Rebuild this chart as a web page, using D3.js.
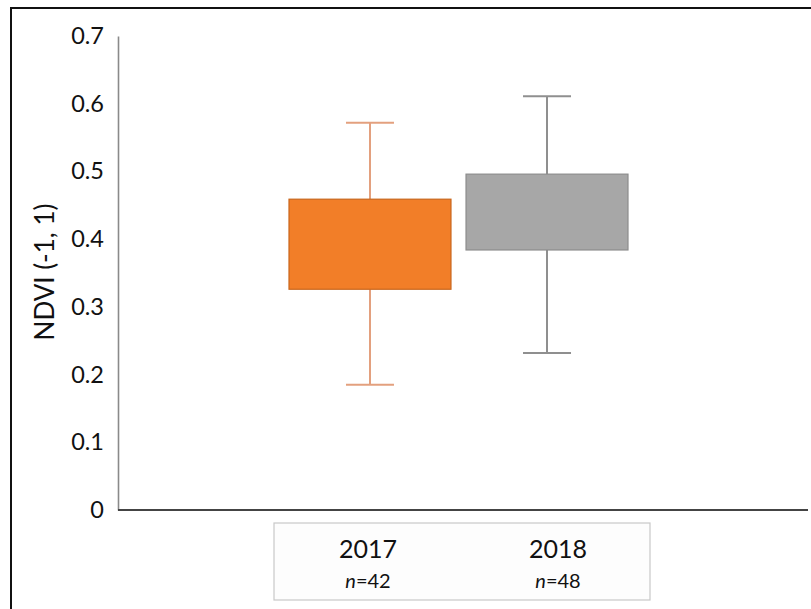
<!DOCTYPE html>
<html><head><meta charset="utf-8">
<script src="https://cdn.jsdelivr.net/npm/d3@7"></script>
<style>body{margin:0;background:#fff}svg{display:block}text{font-family:Lato,"Open Sans",sans-serif}</style>
</head><body>
<svg id="c" width="811" height="609"></svg>
<script>
const categories = ["2017", "2018"];
const sampleSizes = [42, 48];
const whiskerMin = [0.185, 0.232];
const boxQ1 = [0.326, 0.384];
const boxQ3 = [0.459, 0.496];
const whiskerMax = [0.572, 0.611];
const yTicks = [0, 0.1, 0.2, 0.3, 0.4, 0.5, 0.6, 0.7];
const fills = ["#F27E28", "#A7A7A7"];
const strokes = ["#C8661C", "#8C8C8C"];
const whiskerColors = ["#E3A07E", "#8F8F8F"];

const svg = d3.select("#c");
// outer frame (top & left)
svg.append("line").attr("x1",11).attr("x2",811).attr("y1",8).attr("y2",8).attr("stroke","#111").attr("stroke-width",2);
svg.append("line").attr("x1",11).attr("x2",11).attr("y1",7).attr("y2",609).attr("stroke","#111").attr("stroke-width",2);

const y = d3.scaleLinear().domain([0, 0.7]).range([510, 36]);
const x = d3.scaleBand().domain(categories).range([289, 628]).paddingInner(0.085).paddingOuter(0);

// y axis
const yAxis = d3.axisLeft(y).tickValues(yTicks).tickSize(0).tickPadding(14)
  .tickFormat(d => d === 0 ? "0" : d3.format(".1f")(d));
const ga = svg.append("g").attr("transform","translate(118,0)").call(yAxis);
ga.select(".domain").attr("stroke","#8a8a8a").attr("stroke-width",1.6);
ga.selectAll("text").attr("font-size",23.5).attr("fill","#111").attr("font-family","Lato");

// x axis line
svg.append("line").attr("x1",118).attr("x2",808).attr("y1",y(0)).attr("y2",y(0)).attr("stroke","#444").attr("stroke-width",2);

// y label
svg.append("text").attr("transform","translate(54,272) rotate(-90)").attr("text-anchor","middle")
  .attr("font-size",26).attr("fill","#111").text("NDVI (-1, 1)");

// boxes
const capW = 48;
categories.forEach((c,i) => {
  const cx = x(c) + x.bandwidth()/2;
  const g = svg.append("g");
  g.append("line").attr("x1",cx).attr("x2",cx).attr("y1",y(whiskerMax[i])).attr("y2",y(boxQ3[i]))
    .attr("stroke",whiskerColors[i]).attr("stroke-width",2);
  g.append("line").attr("x1",cx).attr("x2",cx).attr("y1",y(boxQ1[i])).attr("y2",y(whiskerMin[i]))
    .attr("stroke",whiskerColors[i]).attr("stroke-width",2);
  g.append("line").attr("x1",cx-capW/2).attr("x2",cx+capW/2).attr("y1",y(whiskerMax[i])).attr("y2",y(whiskerMax[i]))
    .attr("stroke",whiskerColors[i]).attr("stroke-width",2);
  g.append("line").attr("x1",cx-capW/2).attr("x2",cx+capW/2).attr("y1",y(whiskerMin[i])).attr("y2",y(whiskerMin[i]))
    .attr("stroke",whiskerColors[i]).attr("stroke-width",2);
  g.append("rect").attr("x",x(c)).attr("width",x.bandwidth())
    .attr("y",y(boxQ3[i])).attr("height",y(boxQ1[i])-y(boxQ3[i]))
    .attr("fill",fills[i]).attr("stroke",strokes[i]).attr("stroke-width",1.2);
});

// category label table
svg.append("rect").attr("x",274).attr("y",523).attr("width",376).attr("height",77)
  .attr("fill","#fdfdfd").attr("stroke","#c8c8c8").attr("stroke-width",1.2);
const lx = d3.scalePoint().domain(categories).range([368, 558]);
categories.forEach((c,i) => {
  svg.append("text").attr("x",lx(c)).attr("y",558).attr("text-anchor","middle")
    .attr("font-size",25).attr("fill","#111").text(c);
  const t = svg.append("text").attr("x",lx(c)).attr("y",588).attr("text-anchor","middle")
    .attr("font-size",20).attr("fill","#111");
  t.append("tspan").attr("font-style","italic").text("n");
  t.append("tspan").text("=" + sampleSizes[i]);
});
</script>
</body></html>
